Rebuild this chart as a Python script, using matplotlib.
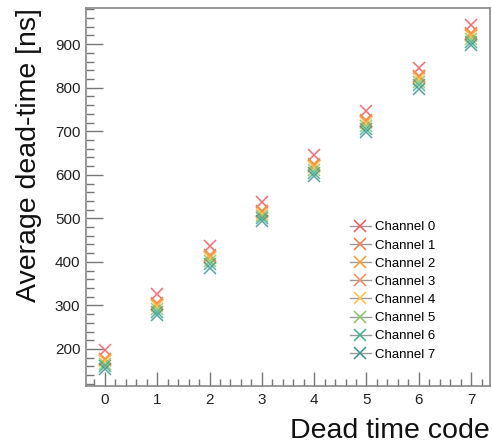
import matplotlib
matplotlib.use("Agg")
import matplotlib.pyplot as plt
from matplotlib.ticker import MultipleLocator
from matplotlib.lines import Line2D

plt.rcParams['font.family'] = ['Liberation Sans', 'DejaVu Sans']

codes = [0, 1, 2, 3, 4, 5, 6, 7]
channels = ["Channel 0", "Channel 1", "Channel 2", "Channel 3",
            "Channel 4", "Channel 5", "Channel 6", "Channel 7"]
ch0 = [198, 326, 436, 537, 646, 747, 846, 944]
ch1 = [178, 306, 416, 518, 625, 726, 828, 925]
ch2 = [176, 304, 414, 516, 623, 724, 826, 923]
ch3 = [174, 302, 412, 514, 621, 722, 824, 921]
ch4 = [172, 299, 409, 511, 618, 719, 821, 918]
ch5 = [166, 292, 401, 505, 612, 713, 814, 912]
ch6 = [160, 286, 395, 500, 605, 706, 807, 905]
ch7 = [153, 279, 386, 493, 598, 698, 797, 897]
series = [ch0, ch1, ch2, ch3, ch4, ch5, ch6, ch7]
colors = ["#f8525a", "#f27c42", "#f89a2c", "#f7865e",
          "#f9c440", "#8cc462", "#3cae8a", "#3a9494"]

fig = plt.figure(figsize=(4.92, 4.48), dpi=100)
ax = fig.add_axes([86/492, 1 - 386/448, (490-86)/492, (386-8)/448])

for vals, c, name in zip(series, colors, channels):
    ax.plot(codes, vals, linestyle='none', marker='x', markersize=8,
            markeredgewidth=1.1, color=c, alpha=0.85, label=name)

ax.set_xlim(-0.36, 7.36)
ax.set_ylim(115, 983)
ax.xaxis.set_major_locator(MultipleLocator(1))
ax.xaxis.set_minor_locator(MultipleLocator(0.2))
ax.yaxis.set_major_locator(MultipleLocator(100))
ax.yaxis.set_minor_locator(MultipleLocator(20))
ax.tick_params(which='both', direction='in', color='#777777', top=False, right=False,
               labelsize=11, labelcolor='#222222')
ax.tick_params(which='major', length=10, width=1)
ax.tick_params(which='minor', length=5, width=1)
ax.tick_params(axis='y', which='major', length=12)
ax.tick_params(axis='y', which='minor', length=6)
ax.tick_params(axis='x', pad=5)
ax.tick_params(axis='y', pad=4)
for s in ax.spines.values():
    s.set_color('#888888')
    s.set_linewidth(1.2)

ax.set_ylabel("Average dead-time [ns]", fontsize=20.5, loc='top', color='#111111')
ax.yaxis.set_label_coords(-0.11, 1.0)
ax.set_xlabel("Dead time code", fontsize=20.5, loc='right', color='#111111')
ax.xaxis.set_label_coords(1.0, -0.085)

handles = [Line2D([0], [0], color='#999999', lw=1, marker='x', markersize=8,
                  markeredgewidth=1.1, markeredgecolor=c) for c in colors]
ax.legend(handles, channels, loc='upper left', bbox_to_anchor=(0.64, 0.45),
          frameon=False, fontsize=9.5, handlelength=1.6, handletextpad=0.3,
          labelspacing=0.45, borderaxespad=0)

fig.savefig("out.png", dpi=100)
